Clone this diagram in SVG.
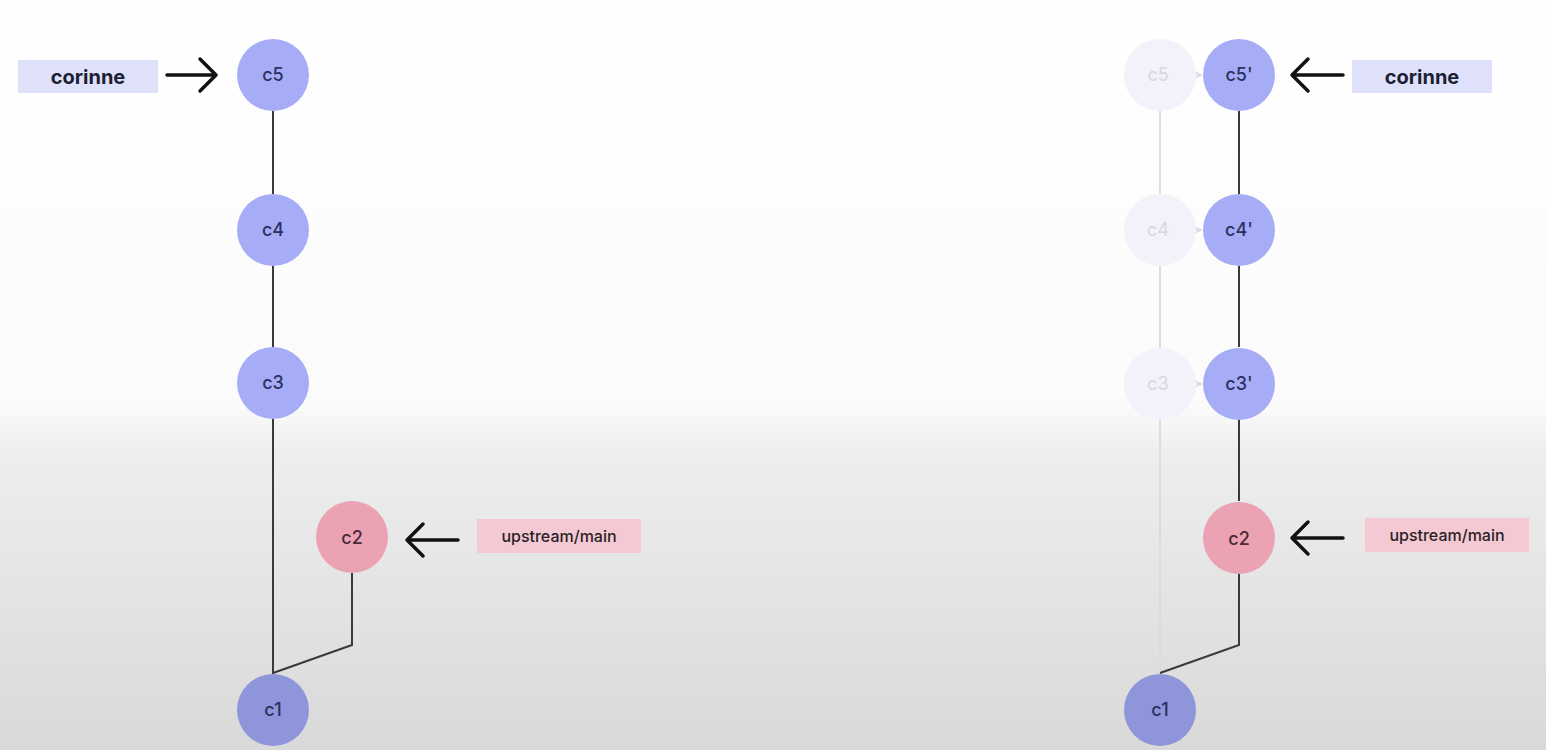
<svg xmlns="http://www.w3.org/2000/svg" width="1546" height="750" viewBox="0 0 1546 750">
<defs>
<linearGradient id="bg" x1="0" y1="0" x2="0" y2="1">
<stop offset="0" stop-color="#ffffff"/>
<stop offset="0.54" stop-color="#fbfbfb"/>
<stop offset="0.6" stop-color="#eeeeee"/>
<stop offset="1" stop-color="#d9d9d9"/>
</linearGradient>
<marker id="ga" markerWidth="8" markerHeight="8" refX="7" refY="4" orient="auto" markerUnits="userSpaceOnUse">
<path d="M1,1 L7,4 L1,7" fill="none" stroke="#d4d4dc" stroke-width="1.2"/>
</marker>
<style>
.blue{fill:#a6adf6}
.dark{fill:#8f95da}
.pink{fill:#eba2b3}
.ghost{fill:#f2f2fa}
.nt{font-family:Inter,"Open Sans",sans-serif;font-size:18px;font-weight:500;fill:#2b3060;text-anchor:middle;dominant-baseline:central}
.gt{font-family:Inter,"Open Sans",sans-serif;font-size:18px;fill:#d6d6e2;text-anchor:middle;dominant-baseline:central}
.edge{stroke:#3a3a3a;stroke-width:2;fill:none}
.gedge{stroke:#dcdcdc;stroke-width:2;fill:none}
.ptr{stroke:#111;stroke-width:3.5;fill:none;stroke-linecap:round;stroke-linejoin:round}
.lb{fill:#dfe1fb}
.lp{fill:#f5c9d3}
.lt{font-family:Inter,"Open Sans",sans-serif;font-size:20px;font-weight:700;fill:#1c1f33;text-anchor:middle;dominant-baseline:central}
.ut{font-family:Inter,"Open Sans",sans-serif;font-size:16px;font-weight:500;fill:#2a1f26;text-anchor:middle;dominant-baseline:central}
</style>
</defs>
<rect width="1546" height="750" fill="url(#bg)"/>
<g id="connectors">
<path class="edge" d="M273,111 V194 M273,266 V347 M273,419 V673 L352,645 V573"/>
<path class="gedge" d="M1160,111 V673"/>
<path class="edge" d="M1239,111 V194 M1239,266 V347 M1239,419 V501 M1239,573 V645 L1160,673"/>
<line x1="1174" y1="75" x2="1201" y2="75" stroke="#d4d4dc" stroke-width="1.2" marker-end="url(#ga)"/>
<line x1="1174" y1="230" x2="1201" y2="230" stroke="#d4d4dc" stroke-width="1.2" marker-end="url(#ga)"/>
<line x1="1174" y1="384" x2="1201" y2="384" stroke="#d4d4dc" stroke-width="1.2" marker-end="url(#ga)"/>
<path class="ptr" d="M167,75 H216 M200,59 L216,75 L200,91"/>
<path class="ptr" d="M458,540 H407 M423,524 L407,540 L423,556"/>
<path class="ptr" d="M1343,75 H1292 M1308,59 L1292,75 L1308,91"/>
<path class="ptr" d="M1343,538 H1292 M1308,522 L1292,538 L1308,554"/>
</g>
<g id="label-corinne-left"><rect class="lb" x="18" y="60" width="140" height="33"/><text class="lt" x="88" y="77">corinne</text></g>
<g id="label-upstream-left"><rect class="lp" x="477" y="519" width="164" height="34"/><text class="ut" x="559" y="536">upstream/main</text></g>
<g id="label-corinne-right"><rect class="lb" x="1352" y="60" width="140" height="33"/><text class="lt" x="1422" y="77">corinne</text></g>
<g id="label-upstream-right"><rect class="lp" x="1365" y="518" width="164" height="34"/><text class="ut" x="1447" y="535">upstream/main</text></g>
<g id="c5"><circle class="blue" cx="273" cy="75" r="36"/><text class="nt" x="273" y="74">c5</text></g>
<g id="c4"><circle class="blue" cx="273" cy="230" r="36"/><text class="nt" x="273" y="229">c4</text></g>
<g id="c3"><circle class="blue" cx="273" cy="383" r="36"/><text class="nt" x="273" y="382">c3</text></g>
<g id="c2"><circle class="pink" cx="352" cy="537" r="36"/><text class="nt" x="352" y="537" style="fill:#4a2a36">c2</text></g>
<g id="c1"><circle class="dark" cx="273" cy="710" r="36"/><text class="nt" x="273" y="709">c1</text></g>
<g id="c5-ghost"><circle class="ghost" cx="1160" cy="75" r="36"/><text class="gt" x="1158" y="74">c5</text></g>
<g id="c4-ghost"><circle class="ghost" cx="1160" cy="230" r="36"/><text class="gt" x="1158" y="229">c4</text></g>
<g id="c3-ghost"><circle class="ghost" cx="1160" cy="384" r="36"/><text class="gt" x="1158" y="383">c3</text></g>
<g id="c5p"><circle class="blue" cx="1239" cy="75" r="36"/><text class="nt" x="1239" y="74">c5'</text></g>
<g id="c4p"><circle class="blue" cx="1239" cy="230" r="36"/><text class="nt" x="1239" y="229">c4'</text></g>
<g id="c3p"><circle class="blue" cx="1239" cy="384" r="36"/><text class="nt" x="1239" y="383">c3'</text></g>
<g id="c2-right"><circle class="pink" cx="1239" cy="538" r="36"/><text class="nt" x="1239" y="538" style="fill:#4a2a36">c2</text></g>
<g id="c1-right"><circle class="dark" cx="1160" cy="710" r="36"/><text class="nt" x="1160" y="709">c1</text></g>
</svg>
